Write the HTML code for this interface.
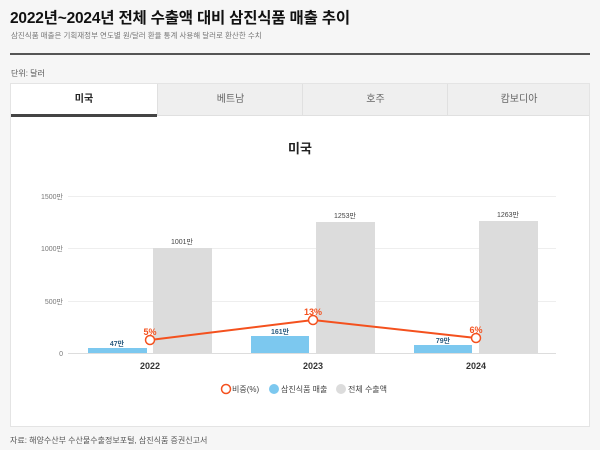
<!DOCTYPE html>
<html><head><meta charset="utf-8"><style>
body{margin:0;width:600px;height:450px;background:#f6f6f6;font-family:"Liberation Sans","Noto Sans CJK KR",sans-serif;position:relative;overflow:hidden}
.a{position:absolute;white-space:nowrap}
</style></head><body>
<div class="a" style="left:10px;top:6px;font-size:15.5px;font-weight:bold;color:#111;letter-spacing:-0.2px">2022년~2024년 전체 수출액 대비 삼진식품 매출 추이</div>
<div class="a" style="left:11px;top:30px;font-size:7.5px;color:#777">삼진식품 매출은 기획재정부 연도별 원/달러 환율 통계 사용해 달러로 환산한 수치</div>
<div class="a" style="left:10px;top:53px;width:580px;height:2px;background:#555"></div>
<div class="a" style="left:11px;top:68px;font-size:8px;color:#555">단위: 달러</div>
<div class="a" style="left:10px;top:83px;width:580px;height:344px;background:#fff;border:1px solid #e4e4e4;box-sizing:border-box"></div>
<div class="a" style="left:11px;top:84px;width:578px;height:31px;background:#efefef;border-bottom:1px solid #e0e0e0"></div>
<div class="a" style="left:11px;top:84px;width:146px;height:30px;background:#fff;border-bottom:3px solid #444;text-align:center;line-height:32px;font-size:10px;font-weight:bold;color:#222">미국</div>
<div class="a" style="left:157px;top:84px;width:145px;height:31px;border-left:1px solid #e0e0e0;text-align:center;line-height:32px;font-size:10px;color:#666">베트남</div>
<div class="a" style="left:302px;top:84px;width:145px;height:31px;border-left:1px solid #e0e0e0;text-align:center;line-height:32px;font-size:10px;color:#666">호주</div>
<div class="a" style="left:447px;top:84px;width:142px;height:31px;border-left:1px solid #e0e0e0;text-align:center;line-height:32px;font-size:10px;color:#666">캄보디아</div>
<svg class="a" style="left:0;top:0" width="600" height="450" font-family="Liberation Sans, Noto Sans CJK KR, sans-serif">
<text x="300" y="153" font-size="13" font-weight="bold" text-anchor="middle" fill="#222">미국</text>
<g stroke="#eee" stroke-width="1">
<line x1="68" x2="556" y1="196.5" y2="196.5"/><line x1="68" x2="556" y1="248.5" y2="248.5"/><line x1="68" x2="556" y1="301.5" y2="301.5"/>
</g>
<g font-size="7" fill="#777" text-anchor="end">
<text x="63" y="199">1500만</text><text x="63" y="251">1000만</text><text x="63" y="304">500만</text><text x="63" y="356">0</text>
</g>
<g fill="#dcdcdc"><rect x="153" y="248" width="59" height="105"/><rect x="316" y="222" width="59" height="131"/><rect x="479" y="221" width="59" height="132"/></g>
<g fill="#7cc8ef"><rect x="88" y="348" width="59" height="5"/><rect x="251" y="336" width="58" height="17"/><rect x="414" y="345" width="58" height="8"/></g>
<line x1="68" x2="556" y1="353.5" y2="353.5" stroke="#ddd"/>
<g font-size="7" fill="#444" text-anchor="middle">
<text x="182" y="244">1001만</text><text x="345" y="218">1253만</text><text x="508" y="217">1263만</text>
</g>
<g font-size="7" fill="#2d5d80" font-weight="bold" text-anchor="middle">
<text x="117" y="346">47만</text><text x="280" y="334">161만</text><text x="443" y="343">79만</text>
</g>
<polyline points="150,340 313,320 476,338" fill="none" stroke="#f4511e" stroke-width="2"/>
<g fill="#fff" stroke="#f4511e" stroke-width="1.5"><circle cx="150" cy="340" r="4.5"/><circle cx="313" cy="320" r="4.5"/><circle cx="476" cy="338" r="4.5"/></g>
<g font-size="9" fill="#f4511e" font-weight="bold" text-anchor="middle">
<text x="150" y="335">5%</text><text x="313" y="315">13%</text><text x="476" y="333">6%</text>
</g>
<g font-size="9" fill="#333" font-weight="bold" text-anchor="middle">
<text x="150" y="369">2022</text><text x="313" y="369">2023</text><text x="476" y="369">2024</text>
</g>
<circle cx="226" cy="389" r="4.5" fill="#fff" stroke="#f4511e" stroke-width="1.5"/>
<text x="232" y="392" font-size="8" fill="#444">비중(%)</text>
<circle cx="274" cy="389" r="5" fill="#7cc8ef"/>
<text x="281" y="392" font-size="8" fill="#444">삼진식품 매출</text>
<circle cx="341" cy="389" r="5" fill="#dcdcdc"/>
<text x="348" y="392" font-size="8" fill="#444">전체 수출액</text>
</svg>
<div class="a" style="left:10px;top:435px;font-size:8px;color:#555">자료: 해양수산부 수산물수출정보포털, 삼진식품 증권신고서</div>
</body></html>
